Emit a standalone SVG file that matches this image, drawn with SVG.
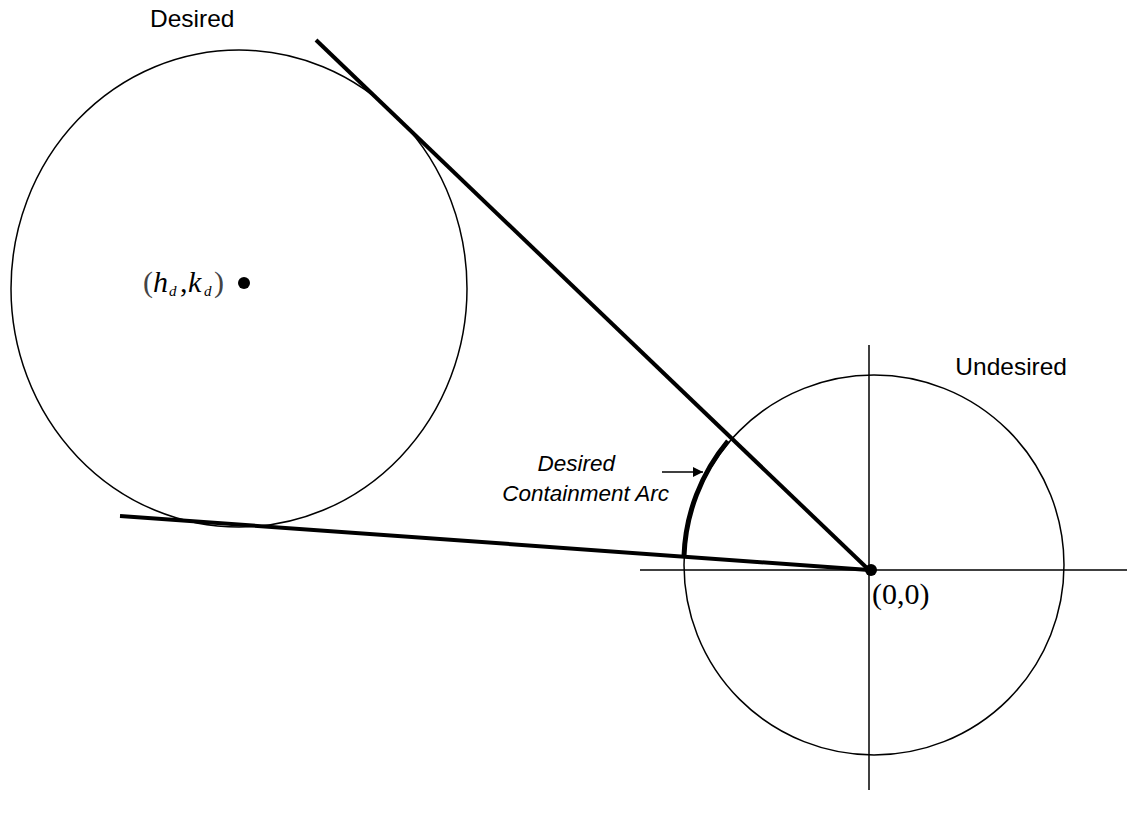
<svg xmlns="http://www.w3.org/2000/svg" width="1127" height="819" viewBox="0 0 1127 819">
<style>
.thin{fill:none;stroke:#000;stroke-width:1.5}
.thick{fill:none;stroke:#000;stroke-width:4}
.sans{font-family:"Liberation Sans",Arial,sans-serif;fill:#000}
.serif{font-family:"Liberation Serif","Times New Roman",serif;fill:#000}
.it{font-style:italic}
</style>
<defs>
<marker id="ah" viewBox="0 0 10 10" refX="10" refY="5" markerWidth="10" markerHeight="10" markerUnits="userSpaceOnUse" orient="auto">
<path d="M0,0 L10,5 L0,10 Z" fill="#000"/>
</marker>
</defs>
<rect width="1127" height="819" fill="#fff"/>
<g id="desired-circle">
<ellipse class="thin" cx="239" cy="288.5" rx="228" ry="238.5"/>
<circle cx="244" cy="283" r="6" fill="#000"/>
<text class="serif" y="292" font-size="30"><tspan x="143" fill="#444">(</tspan><tspan class="it" x="153">h</tspan><tspan class="it" x="169" y="296" font-size="15">d</tspan><tspan x="180" y="292">,</tspan><tspan class="it" x="188">k</tspan><tspan class="it" x="204" y="296" font-size="15">d</tspan><tspan x="214" y="292" fill="#444">)</tspan></text>
<text class="sans" x="150" y="27" font-size="24.5">Desired</text>
</g>
<g id="undesired-circle">
<circle class="thin" cx="874" cy="565" r="190"/>
<text class="sans" x="1067" y="375" font-size="24.5" text-anchor="end">Undesired</text>
</g>
<g id="axes">
<line class="thin" x1="640" y1="570" x2="1127" y2="570"/>
<line class="thin" x1="869" y1="345" x2="869" y2="790"/>
<circle cx="871" cy="570" r="6" fill="#000"/>
<text class="serif" x="872" y="604" font-size="30">(0,0)</text>
</g>
<g id="connectors">
<line class="thick" x1="316" y1="40" x2="869" y2="570"/>
<line class="thick" x1="120" y1="516" x2="869" y2="570"/>
<path fill="none" stroke="#000" stroke-width="5" d="M728,441 A190,190 0 0 0 684,556"/>
<line x1="662" y1="472" x2="703" y2="472" stroke="#000" stroke-width="1.5" marker-end="url(#ah)"/>
</g>
<g id="arc-label">
<text class="sans it" font-size="22.5" text-anchor="end" x="615" y="471">Desired</text>
<text class="sans it" font-size="22.5" text-anchor="end" x="669" y="501">Containment Arc</text>
</g>
</svg>
